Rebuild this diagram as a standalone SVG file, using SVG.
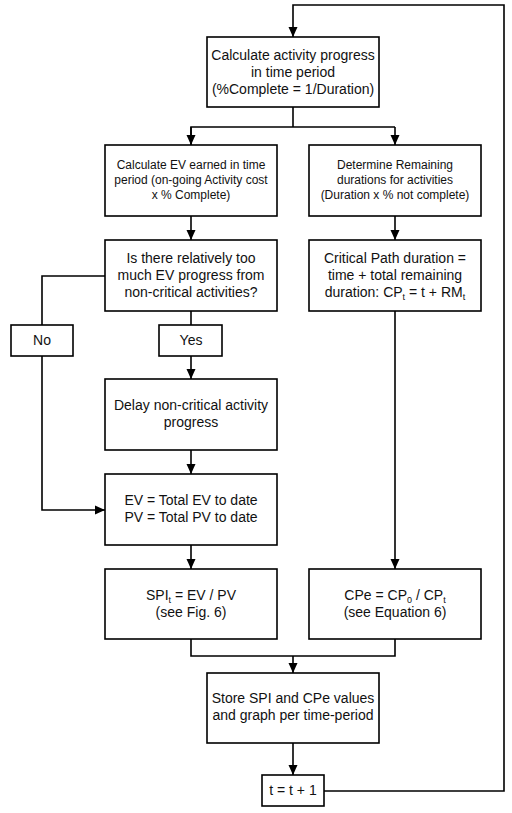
<svg xmlns="http://www.w3.org/2000/svg" width="512" height="813" viewBox="0 0 512 813">
<style>
.box{fill:#fff;stroke:#000;stroke-width:1.6}
.ln{fill:none;stroke:#000;stroke-width:1.6}
text{font-family:"Liberation Sans",Arial,sans-serif;font-size:14px;fill:#111;text-anchor:middle}
.s{font-size:12px}
.sub{font-size:9px}
</style>
<defs>
<marker id="ah" viewBox="0 0 10 10" refX="10" refY="5" markerWidth="10" markerHeight="10" markerUnits="userSpaceOnUse" orient="auto">
<path d="M0,0.5 L10,5 L0,9.5 z" fill="#000"/>
</marker>
</defs>
<rect width="512" height="813" fill="#fff"/>
<g id="connectors">
<polyline class="ln" points="324,791 504,791 504,5 293,5 293,37" marker-end="url(#ah)"/>
<line class="ln" x1="293" y1="107" x2="293" y2="127"/>
<polyline class="ln" points="191,145 191,127 395,127" />
<line class="ln" x1="191" y1="127" x2="191" y2="145" marker-end="url(#ah)"/>
<line class="ln" x1="395" y1="127" x2="395" y2="145" marker-end="url(#ah)"/>
<line class="ln" x1="191" y1="216" x2="191" y2="240" marker-end="url(#ah)"/>
<line class="ln" x1="395" y1="216" x2="395" y2="240" marker-end="url(#ah)"/>
<line class="ln" x1="191" y1="311" x2="191" y2="325"/>
<line class="ln" x1="191" y1="356" x2="191" y2="379" marker-end="url(#ah)"/>
<polyline class="ln" points="105,276 42,276 42,325"/>
<polyline class="ln" points="42,356 42,510 105,510" marker-end="url(#ah)"/>
<line class="ln" x1="191" y1="450" x2="191" y2="474" marker-end="url(#ah)"/>
<line class="ln" x1="191" y1="545" x2="191" y2="569" marker-end="url(#ah)"/>
<line class="ln" x1="395" y1="311" x2="395" y2="569" marker-end="url(#ah)"/>
<polyline class="ln" points="191,639 191,656 395,656 395,639"/>
<line class="ln" x1="293" y1="656" x2="293" y2="673" marker-end="url(#ah)"/>
<line class="ln" x1="293" y1="743" x2="293" y2="775" marker-end="url(#ah)"/>
</g>
<g id="n-progress">
<rect class="box" x="207" y="37" width="172" height="70"/>
<text x="293" y="60">Calculate activity progress</text>
<text x="293" y="77">in time period</text>
<text x="293" y="94">(%Complete = 1/Duration)</text>
</g>
<g id="n-ev-earned">
<rect class="box" x="105" y="145" width="172" height="71"/>
<text class="s" x="191" y="169">Calculate EV earned in time</text>
<text class="s" x="191" y="184">period (on-going Activity cost</text>
<text class="s" x="191" y="199">x % Complete)</text>
</g>
<g id="n-remaining">
<rect class="box" x="309" y="145" width="172" height="71"/>
<text class="s" x="395" y="169">Determine Remaining</text>
<text class="s" x="395" y="184">durations for activities</text>
<text class="s" x="395" y="199">(Duration x % not complete)</text>
</g>
<g id="n-decision">
<rect class="box" x="105" y="240" width="172" height="71"/>
<text x="191" y="263">Is there relatively too</text>
<text x="191" y="280">much EV progress from</text>
<text x="191" y="297">non-critical activities?</text>
</g>
<g id="n-cp">
<rect class="box" x="309" y="240" width="172" height="71"/>
<text x="395" y="263">Critical Path duration =</text>
<text x="395" y="280">time + total remaining</text>
<text x="395" y="297">duration: CP<tspan class="sub" dy="3">t</tspan><tspan dy="-3"> = t + RM</tspan><tspan class="sub" dy="3">t</tspan></text>
</g>
<g id="n-no">
<rect class="box" x="11" y="325" width="62" height="31"/>
<text x="42" y="345">No</text>
</g>
<g id="n-yes">
<rect class="box" x="159" y="325" width="63" height="31"/>
<text x="191" y="345">Yes</text>
</g>
<g id="n-delay">
<rect class="box" x="105" y="379" width="172" height="71"/>
<text x="191" y="410">Delay non-critical activity</text>
<text x="191" y="427">progress</text>
</g>
<g id="n-evpv">
<rect class="box" x="105" y="474" width="172" height="71"/>
<text x="191" y="505">EV = Total EV to date</text>
<text x="191" y="522">PV = Total PV to date</text>
</g>
<g id="n-spi">
<rect class="box" x="105" y="569" width="172" height="70"/>
<text x="191" y="600">SPI<tspan class="sub" dy="3">t</tspan><tspan dy="-3"> = EV / PV</tspan></text>
<text x="191" y="617">(see Fig. 6)</text>
</g>
<g id="n-cpe">
<rect class="box" x="309" y="569" width="172" height="70"/>
<text x="395" y="600">CPe = CP<tspan class="sub" dy="3">0</tspan><tspan dy="-3"> / CP</tspan><tspan class="sub" dy="3">t</tspan></text>
<text x="395" y="617">(see Equation 6)</text>
</g>
<g id="n-store">
<rect class="box" x="207" y="673" width="172" height="70"/>
<text x="293" y="703">Store SPI and CPe values</text>
<text x="293" y="720">and graph per time-period</text>
</g>
<g id="n-tinc">
<rect class="box" x="262" y="775" width="62" height="31"/>
<text x="293" y="795">t = t + 1</text>
</g>
</svg>
